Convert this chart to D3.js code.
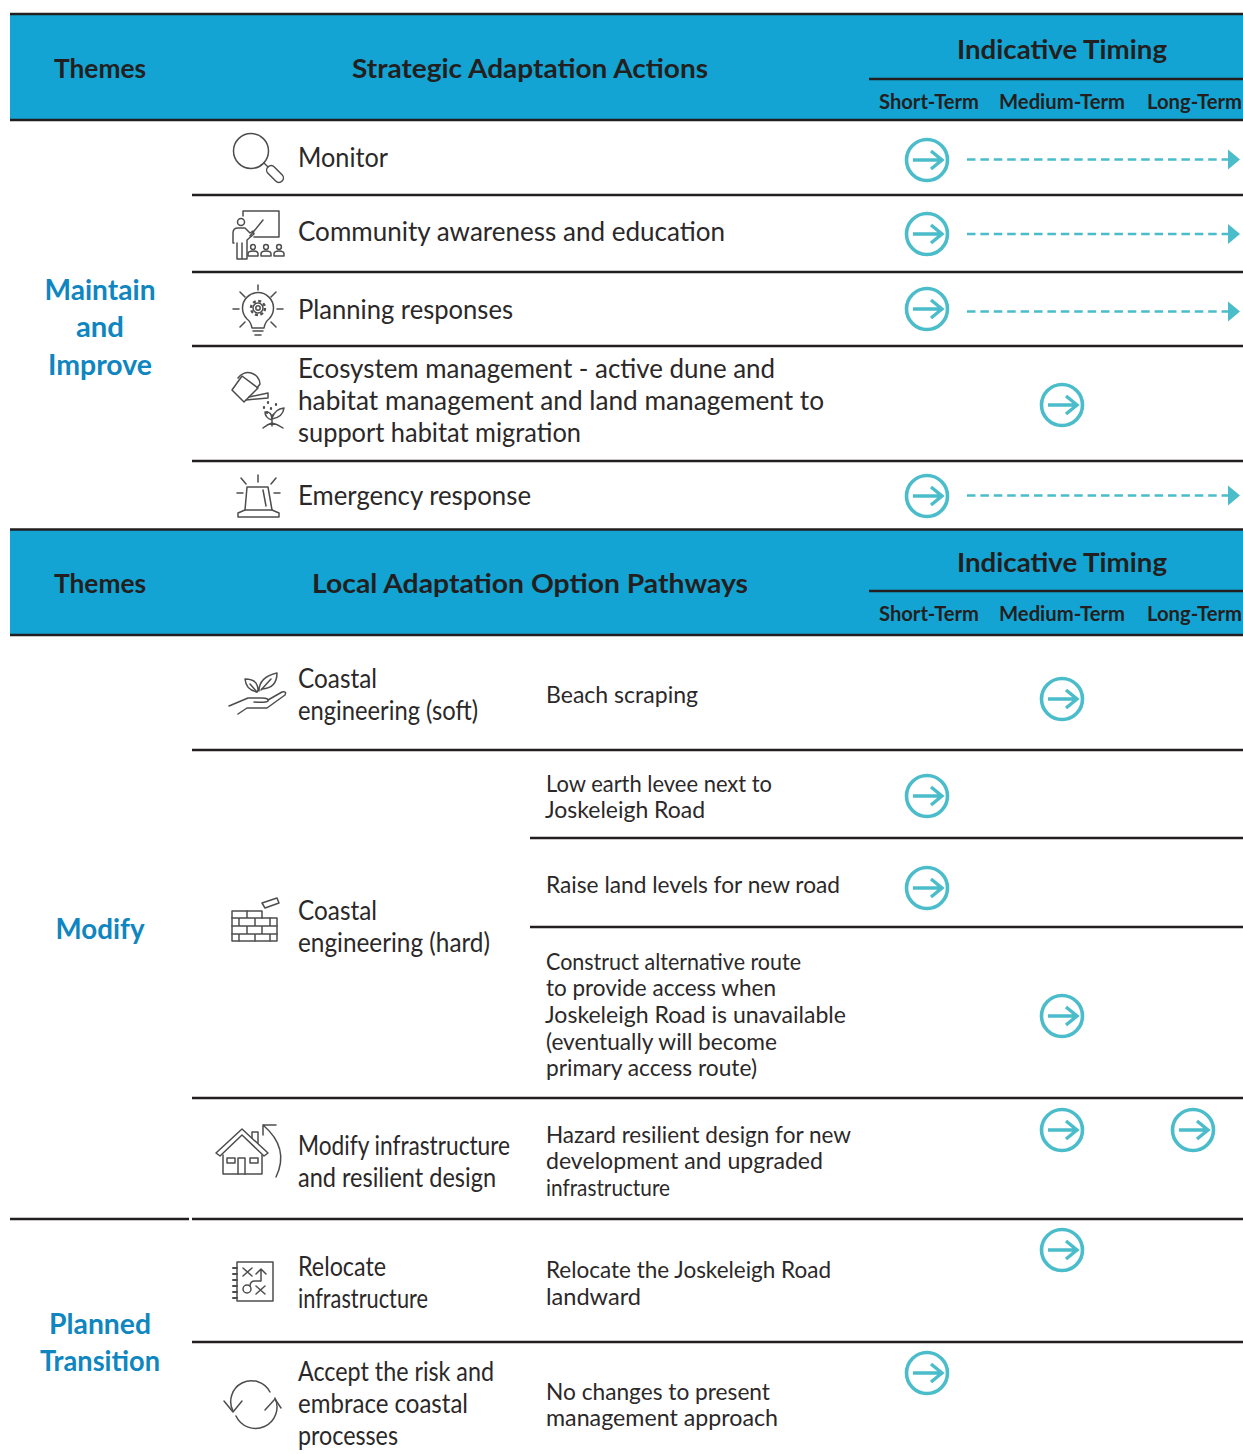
<!DOCTYPE html>
<html>
<head>
<meta charset="utf-8">
<script src="https://cdn.jsdelivr.net/npm/d3@7"></script>
<style>
  html, body { margin: 0; padding: 0; background: #fff; }
  svg { display: block; }
  text { font-family: "Lato", "Open Sans", sans-serif; }
  .head { font-weight: 700; fill: #231f20; text-anchor: middle; }
  .theme { font-weight: 700; fill: #0f86bf; font-size: 28px; text-anchor: middle; }
  .label { fill: #2b2829; font-size: 26px; }
  .option { fill: #2b2829; font-size: 23.5px; }
  .icon { fill: none; stroke: #4d4d4f; stroke-width: 1.5; stroke-linecap: round; stroke-linejoin: round; }
</style>
</head>
<body>
<script>
// Table content
var timingTerms = ["Short-Term", "Medium-Term", "Long-Term"];
var headerTitles = ["Strategic Adaptation Actions", "Local Adaptation Option Pathways"];

var themeNames = [["Maintain", "and", "Improve"], ["Modify"], ["Planned", "Transition"]];

// action rows: label lines, icon name
var actionLabels = [
  ["Monitor"],
  ["Community awareness and education"],
  ["Planning responses"],
  ["Ecosystem management - active dune and", "habitat management and land management to", "support habitat migration"],
  ["Emergency response"],
  ["Coastal", "engineering (soft)"],
  ["Coastal", "engineering (hard)"],
  ["Modify infrastructure", "and resilient design"],
  ["Relocate", "infrastructure"],
  ["Accept the risk and", "embrace coastal", "processes"]
];
var actionIcons = ["monitor", "community", "planning", "ecosystem", "emergency", "soft", "hard", "modify", "relocate", "accept"];

var optionLabels = [
  ["Beach scraping"],
  ["Low earth levee next to", "Joskeleigh Road"],
  ["Raise land levels for new road"],
  ["Construct alternative route", "to provide access when", "Joskeleigh Road is unavailable", "(eventually will become", "primary access route)"],
  ["Hazard resilient design for new", "development and upgraded", "infrastructure"],
  ["Relocate the Joskeleigh Road", "landward"],
  ["No changes to present", "management approach"]
];

// one entry per timing mark: term it starts in, whether it carries on to long-term
var timingTerm = ["Short-Term", "Short-Term", "Short-Term", "Medium-Term", "Short-Term",
  "Medium-Term", "Short-Term", "Short-Term", "Medium-Term", "Medium-Term", "Long-Term", "Medium-Term", "Short-Term"];
var timingOngoing = [true, true, true, false, true, false, false, false, false, false, false, false, false];

// Layout (page pixels), kept apart from the content above
var pageW = 1243, pageH = 1454;
var headerBands = [[14, 120, 79], [529.5, 635, 591]];
var actionBaselines = [[167], [241], [319], [378, 410, 442], [505], [688, 720], [920, 952], [1155, 1187], [1276, 1308], [1381, 1413, 1445]];
var actionWidths = [[90], [427], [215], [477, 526, 283], [233], [79, 180], [79, 192], [212, 198], [88, 130], [196, 170, 100]];
var optionBaselines = [[703], [792, 818], [893], [970, 996, 1023, 1050, 1076], [1143, 1169, 1196], [1278, 1305], [1400, 1426]];
var optionWidths = [[152], [226, 160], [294], [255, 230, 301, 231, 211], [305, 277, 124], [285, 95], [224, 232]];
var timingY = [160, 234, 309, 405, 496, 699, 796, 888, 1016, 1130, 1130, 1250, 1373];
var dashY = [159.5, 234, 311.5, 0, 495.5];
var themeBaselines = [[300, 337, 375], [939], [1334, 1371]];
var themeWidths = [[111, 48, 104], [89], [102, 120]];
var termX = [927, 1062, 1193];
var termLabelX = [929, 1062, 1194.5];
var termLabelW = [100, 126, 95];
var titleW = [356, 436];
var ruleLevels = [
  [195, 192], [272, 192], [346, 192], [461, 192],
  [750, 192], [838, 530], [927, 530], [1098, 192], [1219, 192], [1342, 192]
];

var dark = "#231f20", blue = "#13a4d3", teal = "#4abcca";

var svg = d3.select("body").append("svg")
  .attr("width", pageW)
  .attr("height", pageH);

// columns for the timing marks
var xTerm = d3.scaleOrdinal()
  .domain(timingTerms)
  .range(termX);

function rule(x1, x2, y, w) {
  svg.append("line")
    .attr("x1", x1).attr("x2", x2)
    .attr("y1", y).attr("y2", y)
    .attr("stroke", dark)
    .attr("stroke-width", w || 2.4);
}

// squeeze a line of text to the width it has in the picture
function putText(cls, x, y, str, w, size) {
  var t = svg.append("text").attr("class", cls)
    .attr("x", x).attr("y", y)
    .attr("textLength", w)
    .attr("lengthAdjust", "spacingAndGlyphs")
    .text(str);
  if (size) t.attr("font-size", size);
  return t;
}

// header bands
headerBands.forEach(function(b, i) {
  svg.append("rect")
    .attr("x", 10).attr("y", b[0])
    .attr("width", pageW - 10).attr("height", b[1] - b[0])
    .attr("fill", blue);
  rule(10, pageW, b[0], 2.6);
  rule(10, pageW, b[1]);
  rule(869, pageW, b[2]);

  var mid = b[0] + (b[1] - b[0]) / 2 + 11;
  putText("head", 100, mid, "Themes", 92, 27.5);
  putText("head", 530, mid, headerTitles[i], titleW[i], 27.5);
  putText("head", 1062, b[2] - 20 + i, "Indicative Timing", 210, 27.5);
  timingTerms.forEach(function(t, j) {
    putText("head", termLabelX[j], b[2] + 29.5, t, termLabelW[j], 20);
  });
});

// row rules
ruleLevels.forEach(function(r) { rule(r[1], pageW, r[0]); });
rule(10, 189, 1219);

// theme names
themeNames.forEach(function(lines, i) {
  lines.forEach(function(line, j) {
    putText("theme", 100, themeBaselines[i][j], line, themeWidths[i][j]);
  });
});

// action labels
actionLabels.forEach(function(lines, i) {
  lines.forEach(function(line, j) {
    putText("label", 298, actionBaselines[i][j], line, actionWidths[i][j]);
  });
});

// option labels
optionLabels.forEach(function(lines, i) {
  lines.forEach(function(line, j) {
    putText("option", line.indexOf("Joskeleigh") == 0 ? 545 : 546, optionBaselines[i][j], line, optionWidths[i][j]);
  });
});

// timing marks
timingTerm.forEach(function(term, i) {
  var g = svg.append("g")
    .attr("transform", "translate(" + xTerm(term) + "," + timingY[i] + ")");
  g.append("circle")
    .attr("r", 20.5)
    .attr("fill", "#fff")
    .attr("stroke", teal)
    .attr("stroke-width", 3.6);
  g.append("path")
    .attr("d", "M-14,0H14M4,-9L15,0L4,9")
    .attr("fill", "none")
    .attr("stroke", teal)
    .attr("stroke-width", 3.4);

  if (timingOngoing[i]) {
    svg.append("line")
      .attr("x1", 967).attr("x2", 1228)
      .attr("y1", dashY[i]).attr("y2", dashY[i])
      .attr("stroke", teal)
      .attr("stroke-width", 2.6)
      .attr("stroke-dasharray", "8.5 4.9");
    svg.append("path")
      .attr("transform", "translate(1228," + dashY[i] + ")")
      .attr("d", "M0,-10L12,0L0,10Z")
      .attr("fill", teal);
  }
});

// icons, each drawn in page pixels
var iconDraw = {
  monitor: function(g) {
    g.append("circle").attr("cx", 251).attr("cy", 151).attr("r", 17.5);
    g.append("path").attr("d", "M264,163L268,167");
    g.append("rect").attr("x", 265).attr("y", 169.5).attr("width", 20).attr("height", 9).attr("rx", 4.5)
      .attr("transform", "rotate(45 275 174)");
  },
  community: function(g) {
    g.append("path").attr("d", "M243,216V211H279V237H254");
    g.append("path").attr("d", "M250,236L263,220");
    g.append("circle").attr("cx", 241).attr("cy", 222).attr("r", 3.5);
    g.append("path").attr("d", "M233,243V233Q233,228 238,228H245L250,233L253,231L254,234L247,240V259H237V243M242,243V259M234,243H233");
    [253, 266, 279].forEach(function(x) {
      g.append("circle").attr("cx", x).attr("cy", 247).attr("r", 2.4);
      g.append("path").attr("d", "M" + (x - 5) + ",256V254Q" + (x - 5) + ",251 " + x + ",251Q" + (x + 5) + ",251 " + (x + 5) + ",254V256Z");
    });
  },
  planning: function(g) {
    g.append("path").attr("d", "M252,328Q251,322 247,319A15.5,15.5 0 1 1 269,319Q265,322 264,328Z");
    g.append("path").attr("d", "M253,331H263M255,335H261");
    g.append("circle").attr("cx", 258).attr("cy", 308).attr("r", 7).attr("stroke-width", 2.4).attr("stroke-dasharray", "3 2.5").attr("stroke-linecap", "butt");
    g.append("circle").attr("cx", 258).attr("cy", 308).attr("r", 5);
    g.append("circle").attr("cx", 258).attr("cy", 308).attr("r", 2.2);
    g.append("path").attr("d", "M258,285V290M240,292L245,297M276,292L271,297M233,309H239M277,309H283M240,327L245,322M276,327L271,322");
  },
  ecosystem: function(g) {
    g.append("path").attr("d", "M232,390L242,376L258,388L244,402Z");
    g.append("path").attr("d", "M238,378A12,12 0 0 1 260,384L257,388");
    g.append("path").attr("d", "M249,397L268,393V398L246,400");
    g.append("path").attr("d", "M268,402V403M264,407V408M271,408V409M267,412V413M276,404V405").attr("stroke-width", 2.2);
    g.append("path").attr("d", "M272,426V415M272,420Q265,418 265,412Q272,411 272,420M272,419Q283,417 284,408Q275,409 272,418M263,428Q268,424 272,423Q277,424 283,428");
  },
  emergency: function(g) {
    g.append("path").attr("d", "M245,510L247,487H268L272,510");
    g.append("path").attr("d", "M263,490L266,506");
    g.append("path").attr("d", "M245,510H272L279,513V517H238V513Z");
    g.append("path").attr("d", "M258,475V482M241,478L246,484M276,478L271,484M237,493H243M274,493H280");
  },
  soft: function(g) {
    g.append("path").attr("d", "M229,706L248,698H262Q269,698 268,701Q266,703 254,702");
    g.append("path").attr("d", "M268,700L282,692Q287,691 285,695L267,708H247L238,714");
    g.append("path").attr("d", "M257,692Q246,690 245,679Q255,679 257,685Q259,690 257,692ZM259,691Q259,677 277,673Q277,688 262,689");
    g.append("path").attr("d", "M250,684L257,692M261,690L271,679");
  },
  hard: function(g) {
    g.append("path").attr("d", "M232,911H262V918H277V941H232V911");
    g.append("path").attr("d", "M232,918H262M232,926H277M232,934H277M247,911V918M239,918V926M255,918V926M270,918V926M247,926V934M262,926V934M239,934V941M255,934V941M270,934V941");
    g.append("path").attr("d", "M262,903L277,898L279,903L265,908Z");
  },
  modify: function(g) {
    g.append("path").attr("d", "M216,1153L242,1129L268,1153L264,1156L242,1135L220,1156Z");
    g.append("path").attr("d", "M223,1155V1174H262V1155");
    g.append("path").attr("d", "M252,1138V1132H258V1143");
    g.append("path").attr("d", "M238,1174V1158H245V1174M227,1158H235V1163H227ZM250,1158H258V1163H250Z");
    g.append("path").attr("d", "M276,1125H263V1135M263,1125Q290,1148 276,1177");
  },
  relocate: function(g) {
    g.append("path").attr("d", "M237,1262H273V1301H237Z");
    g.append("path").attr("d", "M233,1268H237M233,1274H237M233,1280H237M233,1286H237M233,1292H237M233,1298H237").attr("stroke-width", 2);
    g.append("path").attr("d", "M243,1268L252,1276M252,1268L243,1276M256,1286L265,1294M265,1286L256,1294");
    g.append("circle").attr("cx", 247).attr("cy", 1289).attr("r", 4);
    g.append("path").attr("d", "M250,1286Q250,1281 255,1281H261V1270M256,1274L261,1269L266,1274");
  },
  accept: function(g) {
    g.append("path").attr("d", "M233,1411A20,20 0 0 1 270,1392");
    g.append("path").attr("d", "M275,1398A21,21 0 0 1 236,1416");
    g.append("path").attr("d", "M224,1401L233,1412L242,1401");
    g.append("path").attr("d", "M265,1410L275,1399L281,1408");
  }
};

actionIcons.forEach(function(name) {
  iconDraw[name](svg.append("g").attr("class", "icon"));
});
</script>
</body>
</html>
